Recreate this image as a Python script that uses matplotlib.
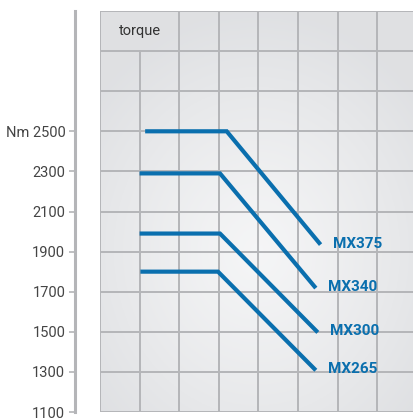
import numpy as np
import matplotlib
matplotlib.use("Agg")
import matplotlib.pyplot as plt

# ---- data ----
models = ["MX375", "MX340", "MX300", "MX265"]
x_start = [1.14, 1.0, 1.0, 1.02]
x_knee = [3.2, 3.03, 3.03, 2.98]
x_end = [5.57, 5.45, 5.5, 5.45]
torque_flat = [2500, 2290, 1990, 1800]
torque_end = [1935, 1718, 1497, 1308]
yticks = [1100, 1300, 1500, 1700, 1900, 2100, 2300, 2500]
ytick_labels = ["1100", "1300", "1500", "1700", "1900", "2100", "2300", "Nm 2500"]
header = "torque"

W, H = 414, 418
fig = plt.figure(figsize=(W / 100, H / 100), dpi=100)
fig.patch.set_facecolor("white")

left, right = 100 / W, 1.0
top, bottom = 1 - 11 / H, 1 - 412 / H
ax = fig.add_axes([left, bottom, right - left, top - bottom])

xmax = 314 / 39.6
ax.set_xlim(0, xmax)
ax.set_ylim(1100, 3100)

# background gradient
gx = np.linspace(-1, 1, 200)
gy = np.linspace(-1, 1, 200)
GX, GY = np.meshgrid(gx, gy)
R = np.sqrt((GX * 0.9) ** 2 + ((GY + 0.2) * 1.0) ** 2)
R = np.clip(R, 0, 1.2)
c_center = np.array([0.96, 0.962, 0.966])
c_edge = np.array([0.875, 0.88, 0.89])
img = c_center[None, None, :] + (c_edge - c_center)[None, None, :] * (R[..., None] / 1.2) ** 1.2
ax.imshow(img, extent=[0, xmax, 1100, 3100], aspect="auto", zorder=0, origin="lower")

gridc = "#b4b5b8"
glw = 1.4
for xv in range(0, 9):
    if xv == 1:
        ax.axvline(xv, ymin=0, ymax=(2900 - 1100) / 2000, color=gridc, lw=glw, zorder=1)
    else:
        ax.axvline(xv, color=gridc, lw=glw, zorder=1)
for yv in range(1100, 3101, 200):
    ax.axhline(yv, color=gridc, lw=glw, zorder=1)

ax.text(1.0, 3000, header, ha="center", va="center", fontsize=10.5,
        color="#333333", family="Roboto", zorder=3)

blue = "#0a6fae"
for m, xs, xk, xe, yf, ye in zip(models, x_start, x_knee, x_end, torque_flat, torque_end):
    ax.plot([xs, xk, xe], [yf, yf, ye], color=blue, lw=3.0, solid_joinstyle="miter",
            solid_capstyle="butt", zorder=4)
    ax.text(xe + 0.32, ye + 5, m, ha="left", va="center", fontsize=11,
            fontweight="bold", color=blue, family="Roboto", zorder=5)

for s in ["top", "right", "bottom"]:
    ax.spines[s].set_visible(False)
ax.spines["left"].set_position(("outward", 18))
ax.spines["left"].set_color("#b4b5b8")
ax.spines["left"].set_linewidth(2.2)
ax.spines["left"].set_bounds(1100, 3100)

ax.set_xticks([])
ax.set_yticks(yticks)
ax.set_yticklabels(ytick_labels, family="Roboto", fontsize=10.5, color="#444444")
ax.tick_params(axis="y", length=4, width=1.2, color="#b4b5b8", pad=3)

fig.savefig("out.png", dpi=100, facecolor="white")
